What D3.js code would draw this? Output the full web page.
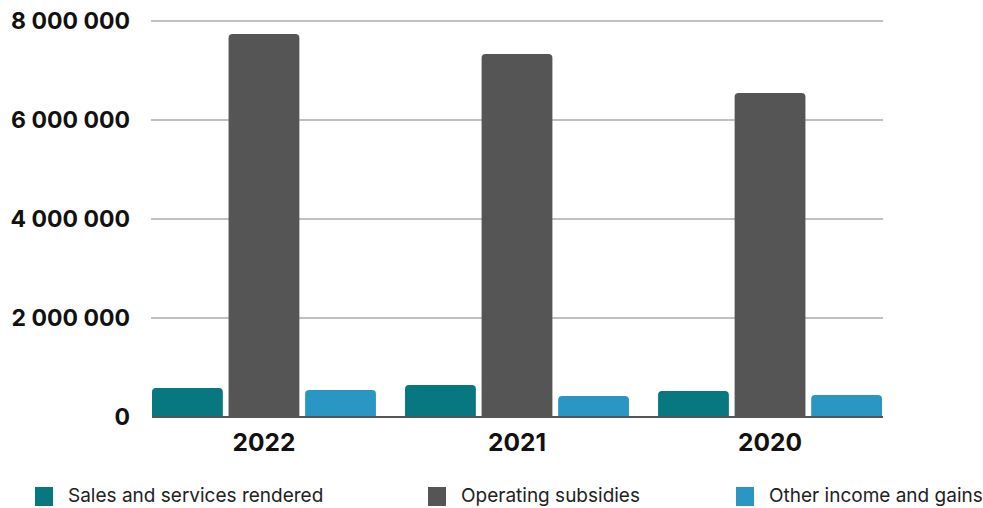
<!DOCTYPE html>
<html>
<head>
<meta charset="utf-8">
<script src="https://cdn.jsdelivr.net/npm/d3@7"></script>
<style>
  body { margin: 0; background: #fff; }
  .tick-label { font-family: Inter, "Noto Sans", sans-serif; font-weight: 700; fill: #111; }
  .legend text { font-family: Inter, "Noto Sans", sans-serif; fill: #222; }
</style>
</head>
<body>
<div id="chart"></div>
<script>
// Data
var years = ["2022", "2021", "2020"];
var seriesNames = ["Sales and services rendered", "Operating subsidies", "Other income and gains"];
var sales = [585000, 646000, 525000];
var subsidies = [7737000, 7333000, 6545000];
var otherIncome = [545000, 424000, 444000];
var yTicks = [0, 2000000, 4000000, 6000000, 8000000];
var colors = ["#077880", "#555555", "#2a96c4"];

var allSeries = [sales, subsidies, otherIncome];

var W = 983, H = 508;
var margin = {top: 21, right: 100, bottom: 91, left: 152},
    width = 882 - margin.left,
    height = 417 - margin.top;

var svg = d3.select("#chart").append("svg")
    .attr("width", W)
    .attr("height", H);

var g = svg.append("g")
    .attr("transform", "translate(" + margin.left + "," + margin.top + ")");

// scales
var x0 = d3.scaleBand()
    .domain(years)
    .range([0, width])
    .paddingInner(0.115)
    .paddingOuter(0);

var x1 = d3.scaleBand()
    .domain(d3.range(seriesNames.length))
    .range([0, x0.bandwidth()])
    .paddingInner(0.075);

var y = d3.scaleLinear()
    .domain([0, 8000000])
    .range([height, 0]);

// grid lines
g.append("g")
    .selectAll("line")
    .data(yTicks.slice(1))
    .enter()
    .append("line")
    .attr("x1", -1)
    .attr("x2", width + 1)
    .attr("y1", function(d) { return y(d); })
    .attr("y2", function(d) { return y(d); })
    .attr("stroke", "#c0c0c0")
    .attr("stroke-width", 2);

// y labels
g.append("g")
    .selectAll("text")
    .data(yTicks)
    .enter()
    .append("text")
    .attr("class", "tick-label")
    .attr("x", -22)
    .attr("y", function(d) { return y(d); })
    .attr("dy", "0.36em")
    .attr("text-anchor", "end")
    .style("font-size", "23px")
    .text(function(d) { return d3.format(",")(d).replace(/,/g, " "); });

// rounded-top bar path
function barPath(x, yTop, w, h, r) {
    r = Math.min(r, h, w / 2);
    return "M" + x + "," + (yTop + h) +
        "V" + (yTop + r) +
        "Q" + x + "," + yTop + " " + (x + r) + "," + yTop +
        "H" + (x + w - r) +
        "Q" + (x + w) + "," + yTop + " " + (x + w) + "," + (yTop + r) +
        "V" + (yTop + h) + "Z";
}

var groups = g.selectAll(".year")
    .data(years)
    .enter()
    .append("g")
    .attr("class", "year")
    .attr("transform", function(d) { return "translate(" + x0(d) + ",0)"; });

groups.selectAll("path")
    .data(function(d, i) {
        return allSeries.map(function(s, k) { return {k: k, v: s[i]}; });
    })
    .enter()
    .append("path")
    .attr("fill", function(d) { return colors[d.k]; })
    .attr("d", function(d) {
        return barPath(x1(d.k), y(d.v), x1.bandwidth(), height - y(d.v), 4);
    });

// baseline
g.append("line")
    .attr("x1", 0)
    .attr("x2", width + 1)
    .attr("y1", height)
    .attr("y2", height)
    .attr("stroke", "#555555")
    .attr("stroke-width", 2);

// x labels
g.append("g")
    .selectAll("text")
    .data(years)
    .enter()
    .append("text")
    .attr("class", "tick-label")
    .attr("x", function(d) { return x0(d) + x0.bandwidth() / 2; })
    .attr("y", height + 34)
    .attr("text-anchor", "middle")
    .style("font-size", "24.5px")
    .text(function(d) { return d; });

// legend
var legendX = [35, 428, 736];
var legend = svg.append("g").attr("class", "legend");
var items = legend.selectAll("g")
    .data(seriesNames)
    .enter()
    .append("g")
    .attr("transform", function(d, i) { return "translate(" + legendX[i] + ",487)"; });

items.append("rect")
    .attr("width", 18)
    .attr("height", 19)
    .attr("fill", function(d, i) { return colors[i]; });

items.append("text")
    .attr("x", 33)
    .attr("y", 14.5)
    .style("font-size", "19px")
    .text(function(d) { return d; });
</script>
</body>
</html>
